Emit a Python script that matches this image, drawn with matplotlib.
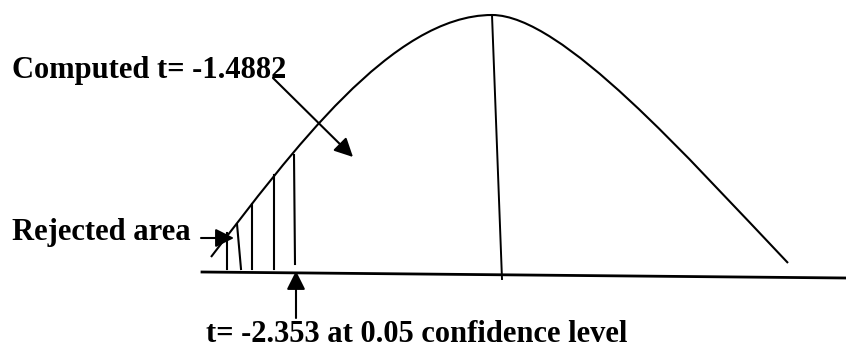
import matplotlib.pyplot as plt
from matplotlib.path import Path
from matplotlib.patches import PathPatch

# picture is in pixel units, y grows downward
# bell curve as two cubic bezier pieces: start, ctrl, ctrl, peak, ctrl, ctrl, end
curve_x = [211, 291, 392, 492, 562, 688, 788]
curve_y = [257, 153, 15, 15, 15, 158, 263]

# rejection region hatching: (x top, y top, x bottom, y bottom)
hatch_top_x = [227, 237, 252, 274, 294]
hatch_top_y = [233, 224, 204, 175, 155]
hatch_bot_x = [227, 241, 252, 274, 295]
hatch_bot_y = [269, 269, 269, 269, 264]

base_x = [202, 846]
base_y = [272, 278]
mid_x = [492, 502]
mid_y = [15, 279]

labels = ["Computed t= -1.4882", "Rejected area", "t= -2.353 at 0.05 confidence level"]
label_x = [12, 12, 206]
label_y = [78, 240, 342]

arrow_from = [(273, 78), (201, 238), (296, 318)]
arrow_to = [(353, 157), (234, 238), (296, 271)]

fig = plt.figure(figsize=(8.46, 3.52), dpi=100)
ax = fig.add_axes([0, 0, 1, 1])
ax.set_xlim(0, 846)
ax.set_ylim(352, 0)
ax.axis('off')

codes = [Path.MOVETO] + [Path.CURVE4] * 6
bell = Path(list(zip(curve_x, curve_y)), codes)
ax.add_patch(PathPatch(bell, facecolor='none', edgecolor='black', lw=1.5))

ax.plot(base_x, base_y, color='black', lw=2.0)
ax.plot(mid_x, mid_y, color='black', lw=1.4)
for i in range(len(hatch_top_x)):
    ax.plot([hatch_top_x[i], hatch_bot_x[i]], [hatch_top_y[i], hatch_bot_y[i]],
            color='black', lw=1.5)

for i in range(len(labels)):
    ax.text(label_x[i], label_y[i], labels[i], fontsize=22, fontweight='bold',
            family='Liberation Serif', ha='left', va='baseline', color='black')

for i in range(len(arrow_from)):
    ax.annotate('', xy=arrow_to[i], xytext=arrow_from[i],
                arrowprops=dict(arrowstyle='-|>,head_length=0.7,head_width=0.35',
                                mutation_scale=16, lw=1.5, color='black',
                                shrinkA=0, shrinkB=0))

plt.savefig('out.png', dpi=100)
